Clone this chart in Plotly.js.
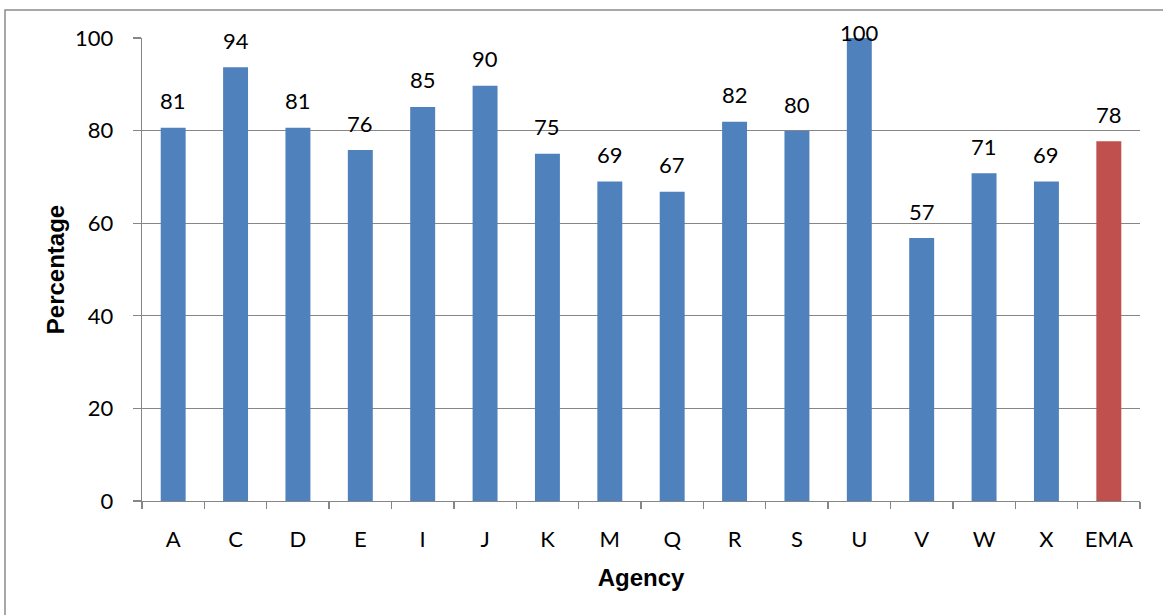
<!DOCTYPE html>
<html>
<head>
<meta charset="utf-8">
<script src="https://cdn.plot.ly/plotly-3.0.1.min.js"></script>
<style>
  html, body { margin: 0; padding: 0; background: #ffffff; }
  #chart { width: 1163px; height: 615px; }
</style>
</head>
<body>
<div id="chart"></div>
<script>
// ---- data ----
const agencies = ["A", "C", "D", "E", "I", "J", "K", "M", "Q", "R", "S", "U", "V", "W", "X", "EMA"];
const percentages = [80.6, 93.7, 80.6, 75.8, 85.1, 89.7, 75.0, 69.0, 66.8, 81.9, 79.9, 100, 56.8, 70.8, 69.0, 77.7];
const barColors = ["#4F81BD", "#4F81BD", "#4F81BD", "#4F81BD", "#4F81BD", "#4F81BD", "#4F81BD", "#4F81BD",
                   "#4F81BD", "#4F81BD", "#4F81BD", "#4F81BD", "#4F81BD", "#4F81BD", "#4F81BD", "#C0504D"];
const yTicks = [0, 20, 40, 60, 80, 100];

// ---- layout geometry ----
const W = 1163, H = 615;
const M = { l: 142, r: 23, t: 38, b: 114 };
const plotH = H - M.t - M.b;
const plotW = W - M.l - M.r;
const yMax = 100;
const pxPerUnit = plotH / yMax;

const labelFont = { family: "Lato, 'Open Sans', sans-serif", size: 22, color: "#000000" };
const titleFont = { family: "'Liberation Sans', Arial, sans-serif", size: 24, color: "#000000", weight: "bold" };
const gridCol = "#868686";

const annotations = agencies.map((a, i) => {
  const v = percentages[i];
  const shift = Math.min(27, (yMax - v) * pxPerUnit + 6);
  return {
    x: a, y: v, xref: "x", yref: "y",
    text: String(Math.round(v)),
    showarrow: false, yanchor: "middle", xanchor: "center",
    yshift: shift, font: labelFont
  };
});

const trace = {
  type: "bar",
  x: agencies,
  y: percentages,
  marker: { color: barColors, line: { width: 0 } },
  hoverinfo: "x+y"
};

const layout = {
  width: W, height: H,
  margin: M,
  paper_bgcolor: "#ffffff",
  plot_bgcolor: "#ffffff",
  showlegend: false,
  bargap: 0.6,
  font: labelFont,
  xaxis: {
    type: "category",
    showline: true, linecolor: gridCol, linewidth: 1.3,
    ticks: "outside", tickson: "boundaries", ticklen: 7, tickcolor: gridCol, tickwidth: 1.3,
    tickfont: labelFont,
    ticklabelstandoff: 18,
    showgrid: false,
    title: { text: "Agency", font: titleFont, standoff: 18 }
  },
  yaxis: {
    range: [0, yMax],
    tickvals: yTicks,
    showline: true, linecolor: gridCol, linewidth: 1.3,
    ticks: "outside", ticklen: 8, tickcolor: gridCol, tickwidth: 1.3,
    tickfont: labelFont,
    ticklabelstandoff: 15,
    showgrid: true, gridcolor: gridCol, gridwidth: 1.3,
    zeroline: false,
    title: { text: "Percentage", font: titleFont, standoff: 3 }
  },
  annotations: annotations,
  shapes: [{
    type: "rect", xref: "paper", yref: "paper", layer: "below",
    x0: (5 - M.l) / plotW, x1: 1.1,
    y0: -0.5, y1: 1 + (M.t - 10) / plotH,
    line: { color: "#8c8c8c", width: 1.5 }
  }]
};

Plotly.newPlot("chart", [trace], layout, { displayModeBar: false, staticPlot: true });
</script>
</body>
</html>
